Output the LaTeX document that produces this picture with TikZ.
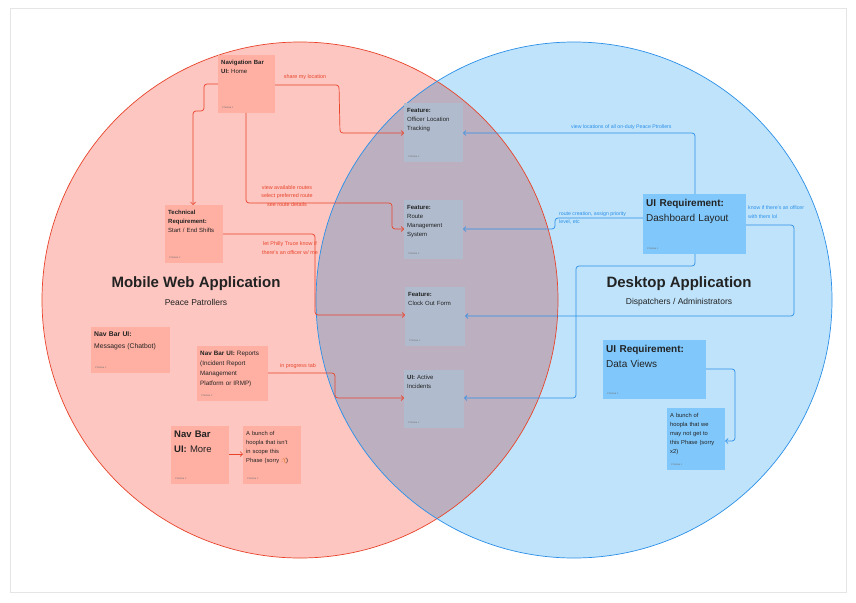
\documentclass[tikz,border=0pt]{standalone}
\usepackage{fontspec}
\setmainfont{Liberation Sans}
\usetikzlibrary{arrows.meta,calc}
\definecolor{redfill}{HTML}{FDC6C1}
\definecolor{bluefill}{HTML}{BEE3FB}
\definecolor{midfill}{HTML}{BCB0C0}
\definecolor{redline}{HTML}{E8442A}
\definecolor{blueline}{HTML}{2B8FE8}
\definecolor{rnote}{HTML}{FFB0A3}
\definecolor{gnote}{HTML}{B0BCCE}
\definecolor{bnote}{HTML}{80C8FC}
\definecolor{ink}{HTML}{222222}
\tikzset{
  note/.style={draw=none,fill=#1,anchor=north west,inner xsep=3pt,inner ysep=5pt,align=left,text=ink},
  sig/.style={anchor=south west,font=\fontsize{2.5}{3}\selectfont,text=black!55,inner sep=0pt},
  rc/.style={draw=redline,line width=0.7pt,rounded corners=3pt,-{Straight Barb[length=2.5pt,width=5pt]}},
  bc/.style={draw=blueline,line width=0.7pt,rounded corners=3pt,-{Straight Barb[length=2.5pt,width=5pt]}},
  rl/.style={text=redline,font=\fontsize{5.4}{8.5}\selectfont,align=center,inner sep=0pt},
  bl/.style={text=blueline,font=\fontsize{5.2}{8.5}\selectfont,align=left,inner sep=0pt},
  small/.style={font=\fontsize{6}{9.2}\selectfont},
}
% #1 name #2 x #3 y #4 w #5 h #6 fill #7 font #8 text
\newcommand\sticky[8]{%
  \fill[#6] (#2,#3) rectangle ++(#4,#5);
  \node[note=#6,text width=#4pt-6pt,font=#7] (#1) at (#2,#3) {#8};
  \path (#2,#3) ++(0,#5) coordinate (#1-sw) ++(#4,-#5) coordinate (#1-ne);
  \node[sig] at ($(#1-sw)+(4,-4)$) {Chelsea J};
}
\begin{document}
\begin{tikzpicture}[x=1pt,y=-1pt]
\useasboundingbox (0,0) rectangle (856,602);
\fill[white] (0,0) rectangle (856,602);
\draw[black!10,line width=0.5pt] (10,8) rectangle (846,592);
\fill[redfill] (300,300) circle[radius=258];
\fill[bluefill] (574,300) circle[radius=258];
\begin{scope}
\clip (300,300) circle[radius=258];
\fill[midfill] (574,300) circle[radius=258];
\end{scope}
\draw[redline,line width=0.7pt] (300,300) circle[radius=258];
\draw[blueline,line width=0.7pt] (574,300) circle[radius=258];

% notes
\sticky{home}{218}{55}{57}{58}{rnote}{\fontsize{6}{9.2}\selectfont}{\textbf{Navigation Bar}\\\textbf{UI:} Home}
\sticky{olt}{404}{103}{59}{59}{gnote}{\fontsize{6}{9.2}\selectfont}{\textbf{Feature:}\\Officer Location\\Tracking}
\sticky{rms}{404}{200}{59}{59}{gnote}{\fontsize{6}{9.2}\selectfont}{\textbf{Feature:}\\Route\\Management\\System}
\sticky{cof}{405}{287}{60}{59}{gnote}{\fontsize{6}{9.2}\selectfont}{\textbf{Feature:}\\Clock Out Form}
\sticky{ai}{404}{370}{60}{58}{gnote}{\fontsize{6}{9.2}\selectfont}{\textbf{UI:} Active\\Incidents}
\sticky{tech}{165}{205}{58}{58}{rnote}{\fontsize{6}{9.2}\selectfont}{\textbf{Technical}\\\textbf{Requirement:}\\Start / End Shifts}
\sticky{msg}{91}{327}{79}{46}{rnote}{\fontsize{6.8}{11.5}\selectfont}{\textbf{Nav Bar UI:}\\Messages (Chatbot)}
\sticky{rep}{197}{346}{71}{55}{rnote}{\fontsize{6.3}{10}\selectfont}{\textbf{Nav Bar UI:} Reports\\(Incident Report\\Management\\Platform or IRMP)}
\sticky{more}{171}{426}{58}{58}{rnote}{\fontsize{9.5}{15}\selectfont}{\textbf{Nav Bar}\\\textbf{UI:} More}
\sticky{hoop}{243}{426}{58}{58}{rnote}{\fontsize{5.8}{9}\selectfont}{A bunch of\\hoopla that isn't\\in scope this\\Phase (sorry \textcolor{orange!80!black}{:'(})}
\sticky{dash}{643}{194}{103}{60}{bnote}{\fontsize{10}{15}\selectfont}{\textbf{UI Requirement:}\\Dashboard Layout}
\sticky{dv}{603}{340}{103}{59}{bnote}{\fontsize{10}{15}\selectfont}{\textbf{UI Requirement:}\\Data Views}
\sticky{hoop2}{667}{408}{58}{62}{bnote}{\fontsize{5.8}{9}\selectfont}{A bunch of\\hoopla that we\\may not get to\\this Phase (sorry\\x2)}

% titles
\node[font=\bfseries\fontsize{15}{18}\selectfont,text=ink] (t1) at (196,284) {Mobile Web Application};
\node[font=\fontsize{8.5}{10}\selectfont,text=ink] (s1) at (196,302) {Peace Patrollers};
\node[font=\bfseries\fontsize{15}{18}\selectfont,text=ink] (t2) at (679,284) {Desktop Application};
\node[font=\fontsize{8.5}{10}\selectfont,text=ink] (s2) at (679,302) {Dispatchers / Administrators};

% red connectors
\draw[rc] (home-ne |- 0,85) -- (339,85) -- (340,133) -- (olt-sw |- 0,133);
\node[rl] at (305,77) {share my location};
\draw[rc] (home-sw |- 0,84) -- (204,84) -- (204,111) -- (193,111) -- (193,205);
\draw[rc] (246,113) -- (246,203) -- (392,203) -- (392,229) -- (rms-sw |- 0,229);
\node[rl] at (287,196) {view available routes\\select preferred route\\see route details};
\draw[rc] (tech-ne |- 0,234) -- (315,234) -- (315,315) -- (cof-sw |- 0,315);
\node[rl] at (290,248) {let Philly Truce know if\\there's an officer w/ me};
\draw[rc] (rep-ne |- 0,373) -- (335,373) -- (335,398) -- (ai-sw |- 0,398);
\node[rl] at (298,366) {in progress tab};
\draw[rc] (more-ne |- 0,454) -- (hoop-sw |- 0,454);

% blue connectors
\draw[bc] (695,194) -- (695,133) -- (olt-ne |- 0,133);
\node[bl,anchor=west] at (571,127) {view locations of all on-duty Peace Ptrollers};
\draw[bc] (dash-sw |- 0,218) -- (555,218) -- (555,229) -- (rms-ne |- 0,229);
\node[bl,anchor=west] at (559,218) {route creation, assign priority\\level, etc};
\draw[bc] (dash-ne |- 0,225) -- (794,225) -- (794,316) -- (cof-ne |- 0,316);
\node[bl,anchor=west] at (748,212) {know if there's an officer\\with them lol};
\draw[bc] (695,254) -- (695,266) -- (576,266) -- (576,398) -- (ai-ne |- 0,398);
\draw[bc] (dv-ne |- 0,369) -- (735,369) -- (735,441) -- (hoop2-ne |- 0,441);
\end{tikzpicture}
\end{document}
